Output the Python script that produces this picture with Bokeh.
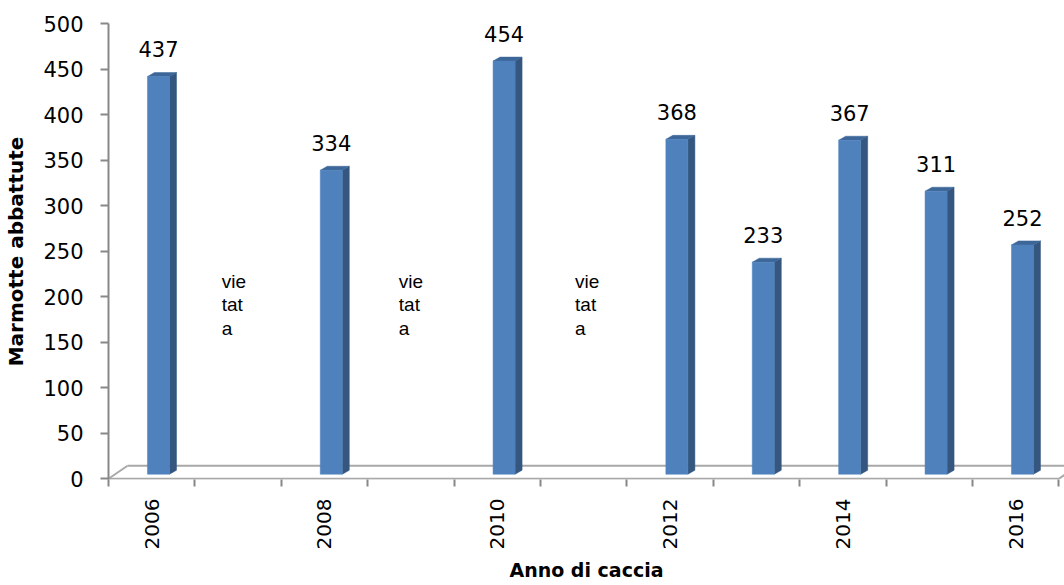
import math
from bokeh.plotting import figure
from bokeh.models import Range1d, FixedTicker
from bokeh.core.properties import value
from bokeh.embed import file_html
from bokeh.resources import INLINE

# ---- data ----
categories = [2006, 2007, 2008, 2009, 2010, 2011, 2012, 2013, 2014, 2015, 2016]
bar_years = [2006, 2008, 2010, 2012, 2013, 2014, 2015, 2016]
bar_values = [437, 334, 454, 368, 233, 367, 311, 252]
banned_years = [2007, 2009, 2011]
banned_text = "vie\ntat\na"
tick_years = [2006, 2008, 2010, 2012, 2014, 2016]
y_ticks = [0, 50, 100, 150, 200, 250, 300, 350, 400, 450, 500]
y_title = "Marmotte abbattute"
x_title = "Anno di caccia"

# ---- style constants ----
FRONT = "#4F81BD"
SIDE = "#34567F"
TOP = "#3D6699"
GRID_GRAY = "#A8A8A8"
AXIS_GRAY = "#888888"
bar_left_off = -0.049   # category units
bar_width = 0.255
depth_dx = 0.081        # bar depth (x, category units)
depth_dy = 4.4          # bar depth (y, value units)
bar_lift = 5.0          # bars stand a little behind the floor front edge
floor_dx = 0.22
floor_dy = 14.3
label_gap = 30.0
banned_dx = [-0.19, -0.14, -0.10]
banned_y = 191.0

n = len(categories)
first = categories[0]

p = figure(width=1064, height=585, x_range=Range1d(0, 11.065), y_range=Range1d(-0.8, 500.3),
           output_backend="svg", toolbar_location=None,
           min_border_left=108, min_border_right=0, min_border_top=23, min_border_bottom=106)
p.outline_line_color = None
p.xgrid.visible = False
p.ygrid.visible = False
p.background_fill_color = "white"
p.border_fill_color = "white"

# floor of the 3D box
p.multi_line(xs=[[0, n], [floor_dx, n + floor_dx], [0, floor_dx], [n, n + floor_dx]],
             ys=[[0, 0], [floor_dy, floor_dy], [0, floor_dy], [0, floor_dy]],
             line_color=GRID_GRAY, line_width=2)

# bars
lefts = [(y - first) + 0.5 + bar_left_off for y in bar_years]
rights = [l + bar_width for l in lefts]
bottoms = [bar_lift for _ in bar_values]
tops = [v + bar_lift for v in bar_values]

side_xs = [[r, r + depth_dx, r + depth_dx, r] for r in rights]
side_ys = [[b, b + depth_dy, t + depth_dy, t] for b, t in zip(bottoms, tops)]
top_xs = [[l, r, r + depth_dx, l + depth_dx] for l, r in zip(lefts, rights)]
top_ys = [[t, t, t + depth_dy, t + depth_dy] for t in tops]

p.patches(xs=side_xs, ys=side_ys, fill_color=SIDE, line_color=SIDE, line_width=0.5)
p.patches(xs=top_xs, ys=top_ys, fill_color=TOP, line_color=TOP, line_width=0.5)
p.quad(left=lefts, right=rights, bottom=bottoms, top=tops, fill_color=FRONT, line_color=FRONT, line_width=0.5)

# data labels
p.text(x=[(l + r) / 2 for l, r in zip(lefts, rights)], y=[t + label_gap for t in tops],
       text=[str(v) for v in bar_values], text_align="center", text_baseline="alphabetic",
       text_font=value("DejaVu Sans"), text_font_size="21px", text_color="black")

# "vietata" notes
p.text(x=[(y - first) + 0.5 + dx for y, dx in zip(banned_years, banned_dx)], y=[banned_y] * len(banned_years),
       text=[banned_text] * len(banned_years), text_align="left", text_baseline="middle",
       text_line_height=1.12, text_font=value("Liberation Sans"), text_font_size="19px", text_color="black")

# y axis
ya = p.yaxis[0]
ya.ticker = FixedTicker(ticks=y_ticks)
ya.axis_line_color = AXIS_GRAY
ya.axis_line_width = 2
ya.major_tick_line_color = AXIS_GRAY
ya.major_tick_line_width = 2
ya.major_tick_out = 8
ya.major_tick_in = 0
ya.minor_tick_line_color = None
ya.major_label_standoff = 17
ya.major_label_text_font = "DejaVu Sans"
ya.major_label_text_font_size = "21px"
ya.major_label_text_color = "black"
ya.axis_label = y_title
ya.axis_label_text_font = "DejaVu Sans"
ya.axis_label_text_font_style = "bold"
ya.axis_label_text_font_size = "20px"
ya.axis_label_text_color = "black"
ya.axis_label_standoff = 12

# x axis
xa = p.xaxis[0]
label_pos = [(y - first) + 0.5 for y in tick_years]
xa.ticker = FixedTicker(ticks=label_pos, minor_ticks=list(range(n + 1)))
xa.major_label_overrides = {pos: str(y) for pos, y in zip(label_pos, tick_years)}
xa.axis_line_color = None
xa.major_tick_line_color = None
xa.major_tick_out = 0
xa.major_tick_in = 0
xa.minor_tick_line_color = AXIS_GRAY
xa.minor_tick_line_width = 2
xa.minor_tick_out = 7
xa.minor_tick_in = 0
xa.major_label_orientation = math.pi / 2
xa.major_label_standoff = 12
xa.major_label_text_font = "DejaVu Sans"
xa.major_label_text_font_size = "20px"
xa.major_label_text_color = "black"
xa.axis_label = x_title
xa.axis_label_text_font = "DejaVu Sans"
xa.axis_label_text_font_style = "bold"
xa.axis_label_text_font_size = "19px"
xa.axis_label_text_color = "black"
xa.axis_label_standoff = 7

open("out.html", "w").write(file_html(p, INLINE))
